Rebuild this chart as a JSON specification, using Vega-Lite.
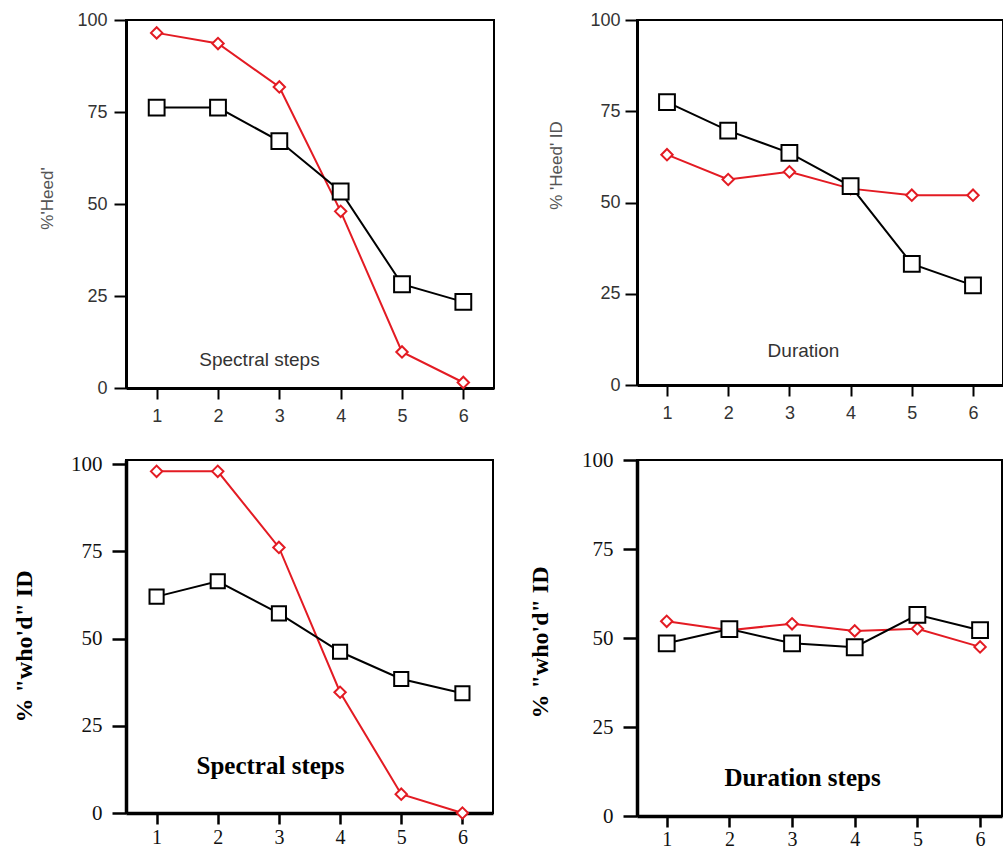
{
  "$schema": "https://vega.github.io/schema/vega-lite/v6.json",
  "padding": {"left": 11, "top": 10, "right": 0, "bottom": 0},
  "background": "white",
  "config": {
    "view": {"stroke": "black", "strokeWidth": 2},
    "axis": {"grid": false, "domainColor": "black", "tickColor": "black"}
  },
  "datasets": {
    "d": [
      {"panel": "TL", "group": "A", "step": 1, "pct": 96.5},
      {"panel": "TL", "group": "A", "step": 2, "pct": 93.6},
      {"panel": "TL", "group": "A", "step": 3, "pct": 81.8},
      {"panel": "TL", "group": "A", "step": 4, "pct": 48.0},
      {"panel": "TL", "group": "A", "step": 5, "pct": 9.8},
      {"panel": "TL", "group": "A", "step": 6, "pct": 1.5},
      {"panel": "TL", "group": "B", "step": 1, "pct": 76.2},
      {"panel": "TL", "group": "B", "step": 2, "pct": 76.2},
      {"panel": "TL", "group": "B", "step": 3, "pct": 67.1},
      {"panel": "TL", "group": "B", "step": 4, "pct": 53.4},
      {"panel": "TL", "group": "B", "step": 5, "pct": 28.2},
      {"panel": "TL", "group": "B", "step": 6, "pct": 23.4},
      {"panel": "TR", "group": "A", "step": 1, "pct": 63.1},
      {"panel": "TR", "group": "A", "step": 2, "pct": 56.3},
      {"panel": "TR", "group": "A", "step": 3, "pct": 58.4},
      {"panel": "TR", "group": "A", "step": 4, "pct": 53.8},
      {"panel": "TR", "group": "A", "step": 5, "pct": 52.0},
      {"panel": "TR", "group": "A", "step": 6, "pct": 52.0},
      {"panel": "TR", "group": "B", "step": 1, "pct": 77.5},
      {"panel": "TR", "group": "B", "step": 2, "pct": 69.7},
      {"panel": "TR", "group": "B", "step": 3, "pct": 63.6},
      {"panel": "TR", "group": "B", "step": 4, "pct": 54.5},
      {"panel": "TR", "group": "B", "step": 5, "pct": 33.2},
      {"panel": "TR", "group": "B", "step": 6, "pct": 27.3},
      {"panel": "BL", "group": "A", "step": 1, "pct": 97.9},
      {"panel": "BL", "group": "A", "step": 2, "pct": 97.9},
      {"panel": "BL", "group": "A", "step": 3, "pct": 76.1},
      {"panel": "BL", "group": "A", "step": 4, "pct": 34.6},
      {"panel": "BL", "group": "A", "step": 5, "pct": 5.4},
      {"panel": "BL", "group": "A", "step": 6, "pct": 0},
      {"panel": "BL", "group": "B", "step": 1, "pct": 62.0},
      {"panel": "BL", "group": "B", "step": 2, "pct": 66.4},
      {"panel": "BL", "group": "B", "step": 3, "pct": 57.2},
      {"panel": "BL", "group": "B", "step": 4, "pct": 46.2},
      {"panel": "BL", "group": "B", "step": 5, "pct": 38.4},
      {"panel": "BL", "group": "B", "step": 6, "pct": 34.3},
      {"panel": "BR", "group": "A", "step": 1, "pct": 54.7},
      {"panel": "BR", "group": "A", "step": 2, "pct": 52.2},
      {"panel": "BR", "group": "A", "step": 3, "pct": 54.0},
      {"panel": "BR", "group": "A", "step": 4, "pct": 52.0},
      {"panel": "BR", "group": "A", "step": 5, "pct": 52.6},
      {"panel": "BR", "group": "A", "step": 6, "pct": 47.5},
      {"panel": "BR", "group": "B", "step": 1, "pct": 48.5},
      {"panel": "BR", "group": "B", "step": 2, "pct": 52.5},
      {"panel": "BR", "group": "B", "step": 3, "pct": 48.5},
      {"panel": "BR", "group": "B", "step": 4, "pct": 47.4},
      {"panel": "BR", "group": "B", "step": 5, "pct": 56.5},
      {"panel": "BR", "group": "B", "step": 6, "pct": 52.2}
    ]
  },
  "columns": 2,
  "bounds": "flush",
  "align": "each",
  "spacing": {"row": 72, "column": 143},
  "resolve": {"scale": {"x": "independent", "y": "independent"}},
  "concat": [
    {
      "width": 368, "height": 368,
      "data": {"name": "d"},
      "transform": [{"filter": "datum.panel == 'TL'"}],
      "encoding": {
        "x": {"field": "step", "type": "quantitative",
          "scale": {"domain": [0.5, 6.5], "nice": false, "zero": false},
          "axis": {"values": [1, 2, 3, 4, 5, 6], "title": "Spectral steps", "titleX": 133, "titleY": -29, "titleAlign": "center", "titleBaseline": "middle", "titleFont": "Liberation Sans", "titleFontSize": 19, "titleFontWeight": "normal", "titleColor": "#333", "labelFont": "Liberation Sans", "labelFontSize": 18, "labelColor": "#333", "labelPadding": 8, "tickSize": 11, "tickWidth": 2, "domainWidth": 3, "labelFlush": false}},
        "y": {"field": "pct", "type": "quantitative",
          "scale": {"domain": [0, 100], "nice": false},
          "axis": {"values": [0, 25, 50, 75, 100], "title": "%'Heed'", "titleX": -79, "titleY": 178, "titleAngle": 270, "titleAlign": "center", "titleBaseline": "middle", "titleFont": "Liberation Sans", "titleFontSize": 17, "titleFontWeight": "normal", "titleColor": "#555", "labelFont": "Liberation Sans", "labelFontSize": 18, "labelColor": "#333", "labelPadding": 7, "tickSize": 12, "tickWidth": 2, "domainWidth": 3, "labelFlush": false}}
      },
      "layer": [
        {"transform": [{"filter": "datum.group == 'A'"}], "mark": {"type": "line", "color": "#e31b23", "strokeWidth": 2}},
        {"transform": [{"filter": "datum.group == 'B'"}], "mark": {"type": "line", "color": "black", "strokeWidth": 2}},
        {"transform": [{"filter": "datum.group == 'A'"}], "mark": {"type": "point", "shape": "diamond", "size": 130, "filled": true, "fill": "white", "stroke": "#e31b23", "strokeWidth": 2, "opacity": 1}},
        {"transform": [{"filter": "datum.group == 'B'"}], "mark": {"type": "point", "shape": "square", "size": 250, "filled": true, "fill": "white", "stroke": "black", "strokeWidth": 2, "opacity": 1}}
      ]
    },
    {
      "width": 366, "height": 365,
      "data": {"name": "d"},
      "transform": [{"filter": "datum.panel == 'TR'"}],
      "encoding": {
        "x": {"field": "step", "type": "quantitative",
          "scale": {"domain": [0.51, 6.49], "nice": false, "zero": false},
          "axis": {"values": [1, 2, 3, 4, 5, 6], "title": "Duration", "titleX": 166, "titleY": -35, "titleAlign": "center", "titleBaseline": "middle", "titleFont": "Liberation Sans", "titleFontSize": 19, "titleFontWeight": "normal", "titleColor": "#333", "labelFont": "Liberation Sans", "labelFontSize": 18, "labelColor": "#333", "labelPadding": 8, "tickSize": 11, "tickWidth": 2, "domainWidth": 3, "labelFlush": false}},
        "y": {"field": "pct", "type": "quantitative",
          "scale": {"domain": [0, 100], "nice": false},
          "axis": {"values": [0, 25, 50, 75, 100], "title": "% 'Heed' ID", "titleX": -81, "titleY": 145, "titleAngle": 270, "titleAlign": "center", "titleBaseline": "middle", "titleFont": "Liberation Sans", "titleFontSize": 17, "titleFontWeight": "normal", "titleColor": "#555", "labelFont": "Liberation Sans", "labelFontSize": 18, "labelColor": "#333", "labelPadding": 5, "tickSize": 12, "tickWidth": 2, "domainWidth": 3, "labelFlush": false}}
      },
      "layer": [
        {"transform": [{"filter": "datum.group == 'A'"}], "mark": {"type": "line", "color": "#e31b23", "strokeWidth": 2}},
        {"transform": [{"filter": "datum.group == 'B'"}], "mark": {"type": "line", "color": "black", "strokeWidth": 2}},
        {"transform": [{"filter": "datum.group == 'A'"}], "mark": {"type": "point", "shape": "diamond", "size": 130, "filled": true, "fill": "white", "stroke": "#e31b23", "strokeWidth": 2, "opacity": 1}},
        {"transform": [{"filter": "datum.group == 'B'"}], "mark": {"type": "point", "shape": "square", "size": 250, "filled": true, "fill": "white", "stroke": "black", "strokeWidth": 2, "opacity": 1}}
      ]
    },
    {
      "width": 367, "height": 353,
      "data": {"name": "d"},
      "transform": [{"filter": "datum.panel == 'BL'"}],
      "encoding": {
        "x": {"field": "step", "type": "quantitative",
          "scale": {"domain": [0.5, 6.5], "nice": false, "zero": false},
          "axis": {"values": [1, 2, 3, 4, 5, 6], "title": "Spectral steps", "titleX": 144, "titleY": -48, "titleAlign": "center", "titleBaseline": "middle", "titleFont": "Liberation Serif", "titleFontSize": 25, "titleFontWeight": "bold", "titleColor": "black", "labelFont": "Liberation Serif", "labelFontSize": 20, "labelColor": "#111", "labelPadding": 3, "tickSize": 11, "tickWidth": 2.5, "domainWidth": 3.5, "labelFlush": false}},
        "y": {"field": "pct", "type": "quantitative",
          "scale": {"domain": [0, 101.15], "nice": false},
          "axis": {"values": [0, 25, 50, 75, 100], "title": "% \"who'd\" ID", "titleX": -102, "titleY": 186, "titleAngle": 270, "titleAlign": "center", "titleBaseline": "middle", "titleFont": "Liberation Serif", "titleFontSize": 24, "titleFontWeight": "bold", "titleColor": "black", "labelFont": "Liberation Serif", "labelFontSize": 21, "labelColor": "#111", "labelPadding": 10, "tickSize": 14, "tickWidth": 2.5, "domainWidth": 3.5, "labelFlush": false}}
      },
      "layer": [
        {"transform": [{"filter": "datum.group == 'A'"}], "mark": {"type": "line", "color": "#e31b23", "strokeWidth": 2}},
        {"transform": [{"filter": "datum.group == 'B'"}], "mark": {"type": "line", "color": "black", "strokeWidth": 2}},
        {"transform": [{"filter": "datum.group == 'A'"}], "mark": {"type": "point", "shape": "diamond", "size": 130, "filled": true, "fill": "white", "stroke": "#e31b23", "strokeWidth": 2, "opacity": 1}},
        {"transform": [{"filter": "datum.group == 'B'"}], "mark": {"type": "point", "shape": "square", "size": 200, "filled": true, "fill": "white", "stroke": "black", "strokeWidth": 2, "opacity": 1}}
      ]
    },
    {
      "width": 365, "height": 356,
      "data": {"name": "d"},
      "transform": [{"filter": "datum.panel == 'BR'"}],
      "encoding": {
        "x": {"field": "step", "type": "quantitative",
          "scale": {"domain": [0.526, 6.35], "nice": false, "zero": false},
          "axis": {"values": [1, 2, 3, 4, 5, 6], "title": "Duration steps", "titleX": 165, "titleY": -39, "titleAlign": "center", "titleBaseline": "middle", "titleFont": "Liberation Serif", "titleFontSize": 25, "titleFontWeight": "bold", "titleColor": "black", "labelFont": "Liberation Serif", "labelFontSize": 20, "labelColor": "#111", "labelPadding": 2, "tickSize": 11, "tickWidth": 2.5, "domainWidth": 3.5, "labelFlush": false}},
        "y": {"field": "pct", "type": "quantitative",
          "scale": {"domain": [0, 100], "nice": false},
          "axis": {"values": [0, 25, 50, 75, 100], "title": "% \"who'd\" ID", "titleX": -97, "titleY": 182, "titleAngle": 270, "titleAlign": "center", "titleBaseline": "middle", "titleFont": "Liberation Serif", "titleFontSize": 24, "titleFontWeight": "bold", "titleColor": "black", "labelFont": "Liberation Serif", "labelFontSize": 21, "labelColor": "#111", "labelPadding": 10, "tickSize": 14, "tickWidth": 2.5, "domainWidth": 3.5, "labelFlush": false}}
      },
      "layer": [
        {"transform": [{"filter": "datum.group == 'A'"}], "mark": {"type": "line", "color": "#e31b23", "strokeWidth": 2}},
        {"transform": [{"filter": "datum.group == 'B'"}], "mark": {"type": "line", "color": "black", "strokeWidth": 2}},
        {"transform": [{"filter": "datum.group == 'A'"}], "mark": {"type": "point", "shape": "diamond", "size": 130, "filled": true, "fill": "white", "stroke": "#e31b23", "strokeWidth": 2, "opacity": 1}},
        {"transform": [{"filter": "datum.group == 'B'"}], "mark": {"type": "point", "shape": "square", "size": 250, "filled": true, "fill": "white", "stroke": "black", "strokeWidth": 2, "opacity": 1}}
      ]
    }
  ]
}
